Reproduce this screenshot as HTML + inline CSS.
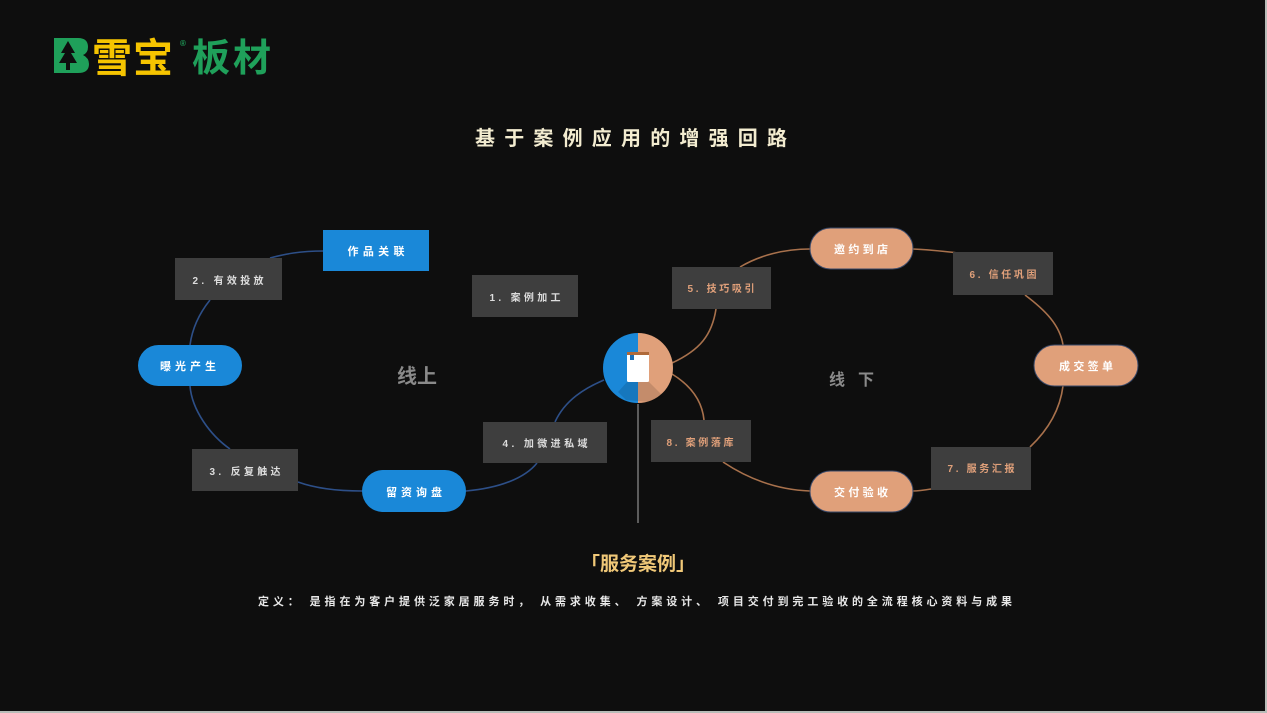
<!DOCTYPE html>
<html><head><meta charset="utf-8"><style>
html,body{margin:0;padding:0;background:#0e0e0e;}
svg{display:block}
text{font-family:"Liberation Sans","Noto Sans CJK SC",sans-serif;font-weight:bold}
</style></head><body>
<svg width="1267" height="713" viewBox="0 0 1267 713" xmlns="http://www.w3.org/2000/svg">
<rect width="1267" height="713" fill="#0e0e0e"/>
<rect x="1265" y="0" width="2" height="713" fill="#b8bcb8"/>
<rect x="0" y="711" width="1267" height="2" fill="#b8bcb8"/>
<!-- logo -->
<path d="M54,38 H78 Q88,38 88,47 Q88,53 83,55 Q89,58 89,64 Q89,73 78,73 H54 Z" fill="#1fa05a"/>
<polygon points="68,41 61,53 65,53 59,63 66,63 66,70 70,70 70,63 77,63 71,53 75,53" fill="#0e0e0e"/>
<text x="92" y="72" font-size="40" fill="#f5c400" letter-spacing="1">雪宝</text>
<text x="180" y="46" font-size="8" fill="#1fa05a">®</text>
<text x="192" y="71" font-size="38" fill="#1fa05a" letter-spacing="3">板材</text>
<!-- title -->
<text x="475" y="145" font-size="20" fill="#f3ecd0" textLength="312">基于案例应用的增强回路</text>
<!-- left loop curves -->
<g fill="none" stroke="#2d4f88" stroke-width="1.6">
<path d="M323,251 C300,251 285,254 270,258"/>
<path d="M210,300 C198,315 192,330 190,345"/>
<path d="M190,386 C192,410 210,435 230,449"/>
<path d="M298,482 C320,490 345,491 362,491"/>
<path d="M466,491 C500,488 525,478 537,463"/>
<path d="M555,422 C565,400 585,388 604,380"/>
</g>
<!-- right loop curves -->
<g fill="none" stroke="#a8714c" stroke-width="1.6">
<path d="M672,363 C700,350 712,335 716,309"/>
<path d="M740,267 C760,255 785,249 810,249"/>
<path d="M913,249 C935,250 960,253 980,256"/>
<path d="M1025,295 C1045,310 1060,325 1063,345"/>
<path d="M1063,386 C1060,410 1048,430 1030,447"/>
<path d="M931,489 C925,490 918,491 913,491"/>
<path d="M810,491 C780,490 750,480 723,462"/>
<path d="M704,420 C702,400 690,385 672,374"/>
</g>
<line x1="638" y1="404" x2="638" y2="523" stroke="#777" stroke-width="1.5"/>
<!-- center circle -->
<path d="M638,333 A35,35 0 0,0 638,403 Z" fill="#1a88d8"/>
<path d="M638,333 A35,35 0 0,1 638,403 Z" fill="#e0a07a"/>
<polygon points="627,382 649,382 664,397 650,402 626,400 618,392" fill="#000" opacity="0.12"/>
<rect x="627" y="353" width="22" height="29" rx="1.5" fill="#fff"/>
<rect x="627" y="352" width="22" height="3" fill="#b06a3a"/>
<rect x="630" y="355" width="4" height="5" fill="#1a6fb8"/>
<!-- left nodes -->
<g font-size="11" text-anchor="middle">
<rect x="323" y="230" width="106" height="41" fill="#1a88d8"/>
<text x="376" y="255" fill="#fff" textLength="57">作品关联</text>
<rect x="175" y="258" width="107" height="42" fill="#3e3e3e"/>
<text x="228" y="284" fill="#ddd" font-size="10" textLength="71">2. 有效投放</text>
<rect x="472" y="275" width="106" height="42" fill="#3e3e3e"/>
<text x="525" y="301" fill="#ddd" font-size="10" textLength="71">1. 案例加工</text>
<rect x="138" y="345" width="104" height="41" rx="20.5" fill="#1a88d8"/>
<text x="188" y="370" fill="#fff" textLength="56">曝光产生</text>
<rect x="192" y="449" width="106" height="42" fill="#3e3e3e"/>
<text x="245" y="475" fill="#ddd" font-size="10" textLength="71">3. 反复触达</text>
<rect x="362" y="470" width="104" height="42" rx="21" fill="#1a88d8"/>
<text x="414" y="496" fill="#fff" textLength="56">留资询盘</text>
<rect x="483" y="422" width="124" height="41" fill="#3e3e3e"/>
<text x="545" y="447" fill="#ddd" font-size="10" textLength="85">4. 加微进私域</text>
</g>
<!-- right nodes -->
<g font-size="11" text-anchor="middle">
<rect x="672" y="267" width="99" height="42" fill="#3e3e3e"/>
<text x="721" y="292" fill="#e0a07a" font-size="10" textLength="67">5. 技巧吸引</text>
<rect x="810" y="228" width="103" height="41" rx="20.5" fill="#e0a07a" stroke="#3a4a6a" stroke-width="1"/>
<text x="861" y="253" fill="#fff" textLength="54">邀约到店</text>
<rect x="953" y="252" width="100" height="43" fill="#3e3e3e"/>
<text x="1003" y="278" fill="#e0a07a" font-size="10" textLength="67">6. 信任巩固</text>
<rect x="1034" y="345" width="104" height="41" rx="20.5" fill="#e0a07a" stroke="#3a4a6a" stroke-width="1"/>
<text x="1086" y="370" fill="#fff" textLength="54">成交签单</text>
<rect x="931" y="447" width="100" height="43" fill="#3e3e3e"/>
<text x="981" y="472" fill="#e0a07a" font-size="10" textLength="67">7. 服务汇报</text>
<rect x="810" y="471" width="103" height="41" rx="20.5" fill="#e0a07a" stroke="#3a4a6a" stroke-width="1"/>
<text x="861" y="496" fill="#fff" textLength="54">交付验收</text>
<rect x="651" y="420" width="100" height="42" fill="#3e3e3e"/>
<text x="700" y="446" fill="#e0a07a" font-size="10" textLength="67">8. 案例落库</text>
</g>
<text x="397" y="383" font-size="20" fill="#8a8a8a">线上</text>
<text x="829" y="385" font-size="16" fill="#8a8a8a" textLength="45">线 下</text>
<text x="638" y="570" font-size="19" fill="#f0c878" text-anchor="middle">「服务案例」</text>
<text x="258" y="605" font-size="11" fill="#e8e8e8" font-weight="normal" textLength="754">定义： 是指在为客户提供泛家居服务时， 从需求收集、 方案设计、 项目交付到完工验收的全流程核心资料与成果</text>
</svg>
</body></html>
